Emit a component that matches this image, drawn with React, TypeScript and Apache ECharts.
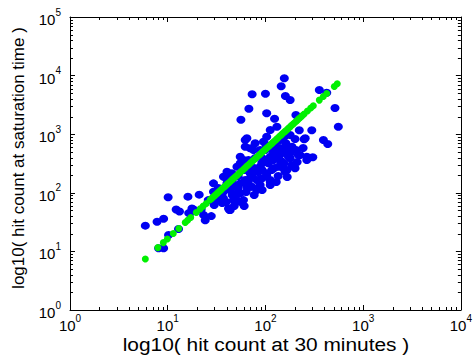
import React, { useEffect, useRef } from "react";
import * as echarts from "echarts";

// Blue points: hit count at 30 minutes (x) vs hit count at saturation time (y)
const blueX = [
  156, 145, 73.1, 100, 160, 179, 356, 424, 67.7, 103, 56.1, 124, 205, 515, 557, 112, 131, 222, 298, 103,
  62.1, 78.5, 95.5, 162, 201, 249, 392, 434, 69.8, 88.3, 131, 179, 226, 305, 55.2, 67.0, 112, 141, 186, 265,
  51.1, 88.3, 136, 166, 201, 40.4, 69.8, 103, 37.2, 81.7, 112, 29.4, 40.4, 64.6, 88.3, 10.1, 16.1, 21.0, 29.4, 51.1,
  55.2, 37.2, 43.6, 55.2, 12.2, 13.2, 7.78, 9.08, 5.9, 16.4, 18.4, 23.3, 24.2, 27.9, 12.9, 10.2, 8.07, 9.08, 159, 69.8,
  81.7, 51.1, 17.7, 22.0, 17.0, 42.9, 255, 64.6, 62.1, 75.5, 131, 172, 217, 265, 147, 59.6, 45.4, 91.9, 103, 116,
  112, 69.8, 55.2, 41.9, 30.6, 37.2, 72.6, 84.9, 55.2, 47.1, 59.6, 34.5, 41.9, 179, 179, 147, 121, 153, 112, 45.7,
  52.6, 60.6, 76.7, 92.5, 107, 126, 141, 163, 99.3, 84.3, 63.5, 32.1, 36.1, 43.6, 49.1, 39.7, 32.9, 66.6, 92.5, 78.5,
  135, 211, 243, 187, 155,
  32.9, 38.8, 45.7, 52.6, 62.1, 73.1, 84.3, 92.5, 101.7, 117, 135, 155, 179, 206, 92.5, 60.6, 39.7, 47.9, 29.9, 26.0,
  76.7, 66.6, 123, 141, 101.7, 167, 129,
];
const blueY = [
  8990, 6565, 4800, 4910, 4485, 3835, 5680, 5105, 2725, 2275, 1767, 1840, 2128, 2800, 1343, 1180, 1343, 1166, 1166, 906,
  796, 700, 745, 700, 828, 818, 796, 680, 575, 537, 537, 472, 442, 403, 413, 363, 413, 363, 298, 363,
  279, 279, 279, 245, 262, 229, 215, 201, 188, 165, 165, 145, 145, 127, 136, 84, 86, 93, 104, 98,
  319, 81, 51, 70, 52, 48, 32, 36, 27.5, 45, 52, 42, 34, 40, 24.1, 19.0, 11.3, 11.3, 229, 127,
  112, 75, 54, 52, 45, 51, 851, 851, 612, 537, 472, 413, 442, 413, 340, 363, 215, 319, 215, 245,
  155, 177, 145, 127, 104, 104, 127, 119, 98, 75, 75, 86, 54, 969, 388, 472, 363, 262, 136, 165,
  194, 245, 265, 393, 319, 654, 582, 537, 537, 226, 103, 75, 67, 112, 131, 177, 121, 153, 177, 393,
  194, 336, 582, 612, 896,
  91.7, 121, 91.7, 121, 165, 194, 165, 245, 363, 537, 393, 319, 582, 537, 112, 59.5, 69.7, 59.5, 61.9, 75,
  91.7, 245, 265, 796, 654, 186, 153,
];

// Green points (fitted values)
const greenX = [
  5.9, 7.92, 9.02, 9.91, 11.4, 13.0, 15.1, 16.0, 17.2, 19.6, 21.5, 23.1, 24.8, 27.2, 29.2, 31.4, 33.7, 36.1, 38.8, 41.6,
  44.7, 47.9, 51.4, 55.2, 59.2, 63.5, 68.2, 73.1, 78.5, 84.2, 90.4, 97.0, 104, 112, 120, 129, 138, 148, 159, 171,
  183, 196, 211, 226, 249, 269, 291, 309, 356, 391, 424, 507, 543,
  28.2, 30.3, 32.5, 34.9, 37.4, 40.2, 43.1, 46.3, 49.6, 53.3, 57.1, 61.3, 65.8, 70.6, 75.8, 81.3, 87.3, 93.6, 100.5, 108,
  116, 124, 133, 143, 153, 165, 177, 190, 204, 218, 237,
];
const greenY = [
  7.41, 11.6, 14.1, 16.3, 20.2, 24.6, 31.1, 34.0, 37.8, 46.0, 53.2, 59.3, 65.9, 76.0, 84.7, 94.2, 105, 117, 130, 145,
  162, 180, 200, 223, 248, 277, 308, 343, 382, 425, 473, 527, 586, 653, 728, 809, 902, 1004, 1117, 1245,
  1387, 1540, 1718, 1914, 2208, 2483, 2805, 3069, 3819, 4395, 4966, 6531, 7261,
  80.4, 89.5, 99.6, 111, 124, 138, 153, 171, 190, 211, 235, 262, 292, 325, 362, 403, 448, 500, 556, 619,
  690, 768, 855, 952, 1060, 1180, 1315, 1463, 1630, 1815, 2056,
];

const xTitle = "log10( hit count at 30 minutes )";
const yTitle = "log10( hit count at saturation time )";
const xMin = 1;
const xMax = 10000;
const yMin = 1;
const yMax = 100000;
const minorSteps = [2, 3, 4, 5, 6, 7, 8, 9];
const xDecades = [1, 10, 100, 1000];
const yDecades = [1, 10, 100, 1000, 10000];

const FONT = "'Liberation Sans', Arial, Helvetica, sans-serif";

export default function App() {
  const ref = useRef<HTMLDivElement>(null);

  useEffect(() => {
    if (!ref.current) return;
    document.body.style.margin = "0";
    const chart = echarts.init(ref.current, undefined, { renderer: "svg" });

    const xMinor = xDecades.flatMap((d) => minorSteps.map((s) => [d * s, yMin]));
    const yMinor = yDecades.flatMap((d) => minorSteps.map((s) => [xMin, d * s]));

    const labelFmt = (v: number) => {
      const n = Math.round(Math.log10(v));
      return `{b|10}{e|${n}}`;
    };
    const rich = {
      b: { fontSize: 15, fontFamily: FONT, color: "#000", verticalAlign: "bottom", lineHeight: 20 },
      e: { fontSize: 10, fontFamily: FONT, color: "#000", verticalAlign: "top", lineHeight: 20 },
    };
    const axisLine = { show: true, onZero: false, lineStyle: { color: "#000", width: 1 } };
    const axisTick = { show: true, inside: true, length: 5, lineStyle: { color: "#000", width: 1 } };

    const tickLine = (x1: number, y1: number, x2: number, y2: number) => ({
      type: "line",
      shape: { x1, y1, x2, y2 },
      style: { stroke: "#000", lineWidth: 1 },
    });

    chart.setOption({
      animation: false,
      backgroundColor: "#fff",
      grid: { left: 70, right: 14, top: 17, bottom: 45, containLabel: false },
      xAxis: [
        {
          type: "log",
          logBase: 10,
          min: xMin,
          max: xMax,
          position: "bottom",
          axisLine,
          axisTick,
          splitLine: { show: false },
          axisLabel: { show: true, margin: 3, formatter: labelFmt, rich, showMinLabel: true, showMaxLabel: true },
        },
        {
          type: "log",
          logBase: 10,
          min: xMin,
          max: xMax,
          position: "top",
          axisLine,
          axisTick,
          splitLine: { show: false },
          axisLabel: { show: false },
        },
      ],
      yAxis: [
        {
          type: "log",
          logBase: 10,
          min: yMin,
          max: yMax,
          position: "left",
          axisLine,
          axisTick,
          splitLine: { show: false },
          axisLabel: { show: true, margin: 9, formatter: labelFmt, rich, showMinLabel: true, showMaxLabel: true },
        },
        {
          type: "log",
          logBase: 10,
          min: yMin,
          max: yMax,
          position: "right",
          axisLine,
          axisTick,
          splitLine: { show: false },
          axisLabel: { show: false },
        },
      ],
      series: [
        {
          type: "scatter",
          xAxisIndex: 0,
          yAxisIndex: 0,
          symbol: "circle",
          symbolSize: [9, 8],
          itemStyle: { color: "#0000f2", opacity: 1 },
          data: blueX.map((x, i) => [x, blueY[i]]),
          silent: true,
        },
        {
          type: "scatter",
          xAxisIndex: 0,
          yAxisIndex: 0,
          symbol: "circle",
          symbolSize: 7,
          itemStyle: { color: "#00f000", opacity: 1 },
          data: greenX.map((x, i) => [x, greenY[i]]),
          silent: true,
        },
        {
          type: "custom",
          xAxisIndex: 0,
          yAxisIndex: 0,
          silent: true,
          data: xMinor,
          renderItem: (params: any, api: any) => {
            const v = api.value(0);
            const b = api.coord([v, yMin]);
            const t = api.coord([v, yMax]);
            const x = Math.round(b[0]) + 0.5;
            return {
              type: "group",
              children: [tickLine(x, b[1], x, b[1] - 3), tickLine(x, t[1], x, t[1] + 3)],
            };
          },
        },
        {
          type: "custom",
          xAxisIndex: 0,
          yAxisIndex: 0,
          silent: true,
          data: yMinor,
          renderItem: (params: any, api: any) => {
            const v = api.value(1);
            const l = api.coord([xMin, v]);
            const r = api.coord([xMax, v]);
            const y = Math.round(l[1]) + 0.5;
            return {
              type: "group",
              children: [tickLine(l[0], y, l[0] + 3, y), tickLine(r[0], y, r[0] - 3, y)],
            };
          },
        },
      ],
      graphic: [
        {
          type: "text",
          x: 266,
          y: 345,
          scaleX: 1.16,
          silent: true,
          style: {
            text: xTitle,
            fontSize: 18,
            fontFamily: FONT,
            fill: "#000",
            align: "center",
            verticalAlign: "middle",
          },
        },
        {
          type: "text",
          x: 18,
          y: 158,
          rotation: Math.PI / 2,
          silent: true,
          style: {
            text: yTitle,
            fontSize: 17,
            fontFamily: FONT,
            fill: "#000",
            align: "center",
            verticalAlign: "middle",
          },
        },
      ],
    });

    return () => {
      chart.dispose();
    };
  }, []);

  return (
    <div
      ref={ref}
      style={{ position: "fixed", left: 0, top: 0, width: 475, height: 355, background: "#fff" }}
    />
  );
}
